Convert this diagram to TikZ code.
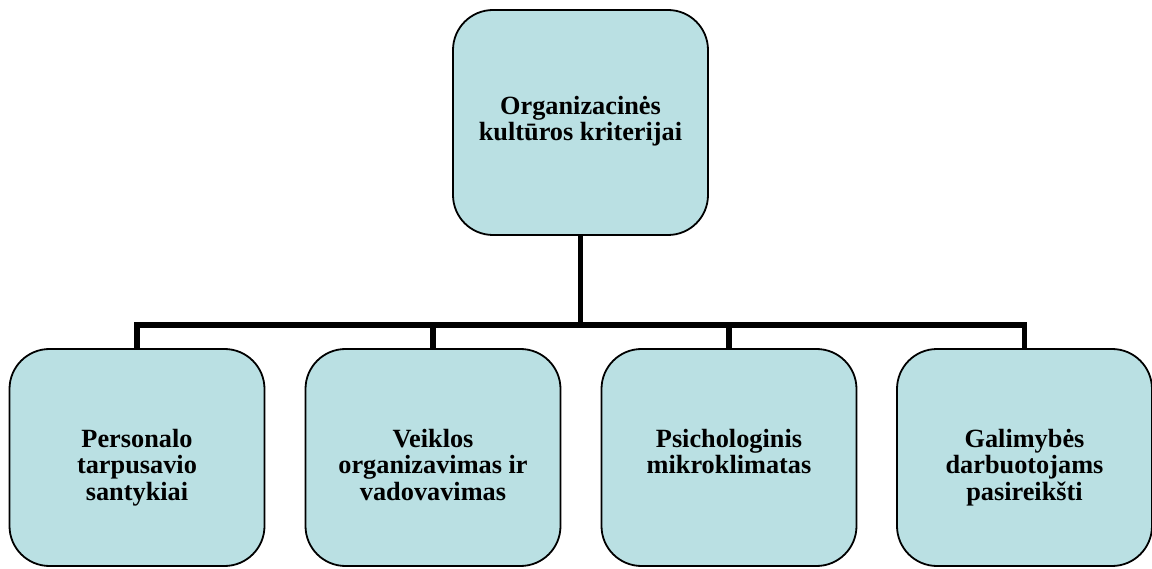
\documentclass[tikz,border=0pt]{standalone}
\usepackage{fontspec}
\setmainfont{Liberation Serif}
\usetikzlibrary{backgrounds}
\definecolor{boxfill}{RGB}{186,224,227}
\begin{document}
\begin{tikzpicture}[x=1pt,y=-1pt,
  box/.style={draw=black, line width=1.8pt, fill=boxfill, rounded corners=40pt, minimum width=255pt, minimum height=217pt, inner sep=0pt},
  lbl/.style={font=\fontsize{26.3}{26.5}\selectfont\bfseries, align=center, inner sep=0pt},
  conn/.style={draw=black, line width=5.5pt}]
\useasboundingbox (0,0) rectangle (1152,569);
\coordinate (bus) at (580.5,325);
\node[box, minimum height=225pt] (top) at (580.5,122.5) {};
\node[box] (b1) at (137,457.5) {};
\node[box] (b2) at (433,457.5) {};
\node[box] (b3) at (729,457.5) {};
\node[box] (b4) at (1024.5,457.5) {};
\begin{scope}[on background layer]
\draw[conn] (top.south) -- (top.south |- bus);
\draw[conn] (b1.north) -- (b1.north |- bus) -- (b4.north |- bus) -- (b4.north);
\draw[conn] (b2.north) -- (b2.north |- bus);
\draw[conn] (b3.north) -- (b3.north |- bus);
\end{scope}
\node[lbl] (ttop) at (580.5,121) {Organizacinės\\kultūros kriterijai};
\node[lbl, anchor=north] (t1) at (137,428.5) {\strut Personalo\\tarpusavio\\santykiai};
\node[lbl, anchor=north] (t2) at (433,428.5) {\strut Veiklos\\organizavimas ir\\vadovavimas};
\node[lbl, anchor=north] (t3) at (729,428.5) {\strut Psichologinis\\mikroklimatas};
\node[lbl, anchor=north] (t4) at (1024.5,428.5) {\strut Galimybės\\darbuotojams\\pasireikšti};
\end{tikzpicture}
\end{document}
